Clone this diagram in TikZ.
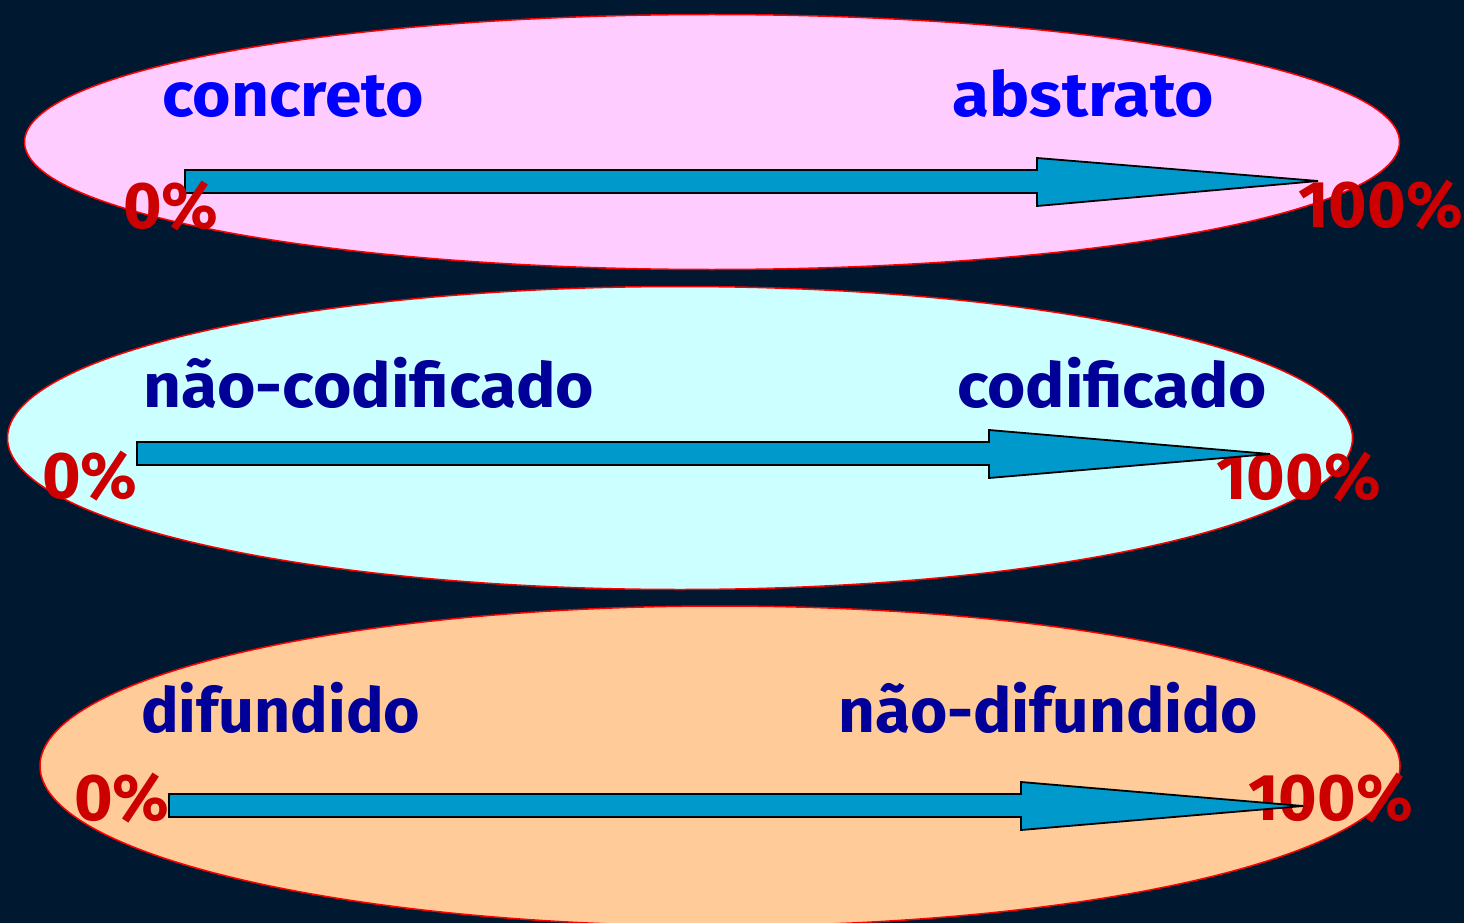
\documentclass[tikz,border=0pt]{standalone}
\usepackage{fontspec}
\setmainfont{Fira Sans}
\usetikzlibrary{shapes.geometric}
\definecolor{bgnavy}{RGB}{0,24,48}
\definecolor{pinkfill}{RGB}{255,204,255}
\definecolor{cyanfill}{RGB}{204,255,255}
\definecolor{orangefill}{RGB}{255,204,153}
\definecolor{arrowblue}{RGB}{0,153,204}
\definecolor{pctred}{RGB}{204,0,0}
\definecolor{wordblue}{RGB}{0,0,255}
\definecolor{darkblue}{RGB}{0,0,153}
\newcommand{\fitw}[2]{\resizebox{#1}{\height}{#2}}
\tikzset{
  oval/.style={ellipse, draw=red, line width=1.5pt, inner sep=0pt},
  bigarrow/.style={fill=arrowblue, draw=black, line width=1.8pt, line join=miter},
  pct/.style={text=pctred, font=\fontsize{66}{66}\selectfont\bfseries, inner sep=0pt, anchor=base west},
  word/.style={font=\fontsize{62}{62}\selectfont\bfseries, inner sep=0pt, anchor=base west},
}
\begin{document}
\begin{tikzpicture}[x=1pt,y=-1pt]
\useasboundingbox (0,0) rectangle (1464,923);
\fill[bgnavy] (0,0) rectangle (1464,923);
% ovals
\node[oval, fill=pinkfill, minimum width=1375pt, minimum height=255pt] (e1) at (712,142) {};
\node[oval, fill=cyanfill, minimum width=1345pt, minimum height=303pt] (e2) at (680,438) {};
\node[oval, fill=orangefill, minimum width=1360pt, minimum height=320pt] (e3) at (720,766) {};
% 100% labels
\node[pct] (h1) at (1298,227) {100\%};
\node[pct] (h2) at (1216,499) {100\%};
\node[pct] (h3) at (1248,820) {100\%};
% arrows
\draw[bigarrow] (185,170) -- (1037,170) -- (1037,158) -- (1318,181) -- (1037,206) -- (1037,193) -- (185,193) -- cycle;
\draw[bigarrow] (137,442) -- (989,442) -- (989,430) -- (1270,454) -- (989,478) -- (989,465) -- (137,465) -- cycle;
\draw[bigarrow] (169,794) -- (1021,794) -- (1021,782) -- (1303,806) -- (1021,830) -- (1021,817) -- (169,817) -- cycle;
% 0% labels
\node[pct] (z1) at (123,228) {0\%};
\node[pct] (z2) at (42,498) {0\%};
\node[pct] (z3) at (74,820) {0\%};
% words
\node[word, text=wordblue] (w1) at (162,117) {\fitw{262pt}{concreto}};
\node[word, text=wordblue] (w2) at (952,117) {\fitw{262pt}{abstrato}};
\node[word, text=darkblue] (w3) at (143,407) {\fitw{451pt}{não-codificado}};
\node[word, text=darkblue] (w4) at (957,407) {\fitw{310pt}{codificado}};
\node[word, text=darkblue] (w5) at (141,732) {\fitw{279pt}{difundido}};
\node[word, text=darkblue] (w6) at (838,732) {\fitw{420pt}{não-difundido}};
\end{tikzpicture}
\end{document}
